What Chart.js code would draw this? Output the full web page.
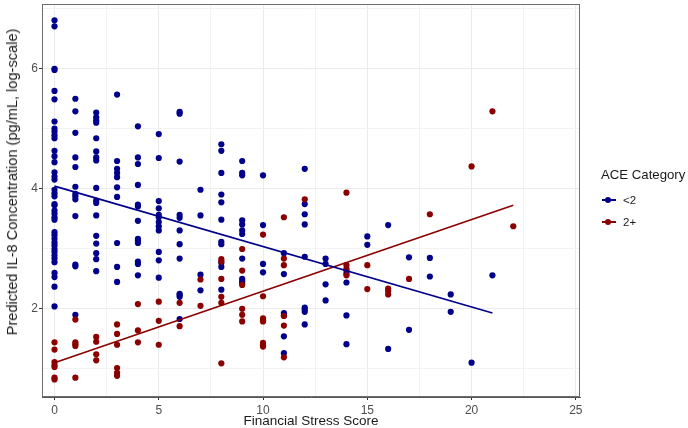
<!DOCTYPE html>
<html>
<head>
<meta charset="utf-8">
<script src="https://cdn.jsdelivr.net/npm/chart.js@4"></script>
<style>
  body { margin: 0; background: #fff; font-family: "Liberation Sans", Arial, sans-serif; }
  #wrap { position: relative; width: 688px; height: 428px; }
  #legend { position: absolute; left: 601px; top: 167px; color: #1a1a1a; white-space: nowrap; }
  #legend .title { font-size: 13.2px; margin-bottom: 7px; }
  #legend .item { position: relative; height: 22px; font-size: 11.5px; line-height: 22px; padding-left: 22px; }
  #legend .key { position: absolute; left: 1px; top: 10px; width: 14px; height: 2px; }
  #legend .dot { position: absolute; left: 4px; top: 8px; width: 6px; height: 6px; border-radius: 50%; }
  #ytitle {
    position: absolute; left: 12px; top: 182px; white-space: nowrap;
    font-size: 14.6px; color: #1a1a1a;
    transform: translate(-50%, -50%) rotate(-90deg);
  }
</style>
</head>
<body>
<div id="wrap">
  <canvas id="chart" width="688" height="428"></canvas>
  <div id="ytitle">Predicted IL-8 Concentration (pg/mL, log-scale)</div>
  <div id="legend"></div>
</div>
<script>
// Predicted IL-8 by financial stress score, grouped by ACE category
const groupLabels = ['<2', '2+'];
const groupColors = ['#00008B', '#8B0000'];

// [score, values] for ACE < 2
const lowAce = [
  [0, [6.81, 6.71, 6.0, 5.98, 5.63, 5.49, 5.12, 5.0, 4.95, 4.89, 4.84, 4.63, 4.54, 4.44, 4.27, 4.2, 4.15, 3.98, 3.92, 3.87,
       3.74, 3.72, 3.63, 3.58, 3.52, 3.48, 3.27, 3.22, 3.16, 3.1, 3.05, 2.99, 2.94, 2.88, 2.83, 2.77, 2.59, 2.52, 2.36, 2.03]],
  [1, [5.5, 5.29, 4.93, 4.52, 4.36, 4.03, 3.91, 3.87, 3.82, 3.54, 2.73, 2.7, 1.89]],
  [2, [5.27, 5.19, 5.14, 5.1, 4.84, 4.62, 4.52, 4.47, 4.01, 3.8, 3.76, 3.55, 3.21, 3.08, 2.92, 2.82, 2.62]],
  [3, [5.57, 4.46, 4.33, 4.26, 4.19, 4.02, 3.86, 3.09, 2.69, 2.44]],
  [4, [5.04, 4.52, 4.41, 4.06, 3.73, 3.7, 3.46, 3.16, 3.13, 3.09, 2.78, 2.74, 2.55]],
  [5, [4.91, 4.51, 3.79, 3.67, 3.56, 3.52, 3.44, 3.37, 3.3, 2.94, 2.8, 2.51]],
  [6, [5.28, 5.25, 4.45, 3.56, 3.51, 3.3, 3.07, 2.83, 2.24, 2.22, 2.19, 1.82]],
  [7, [3.98, 3.55, 2.56, 2.3]],
  [8, [4.74, 4.63, 4.26, 3.9, 3.77, 3.48, 3.11, 3.07, 2.76, 2.69, 2.31]],
  [9, [4.46, 4.26, 4.22, 3.47, 3.4, 3.3, 3.24, 2.83, 2.49, 2.45, 2.42]],
  [10, [4.22, 3.39, 2.74, 2.6]],
  [11, [2.92, 2.57, 1.92, 1.88, 1.53, 1.25]],
  [12, [4.33, 3.74, 3.57, 3.4, 2.86, 2.01, 1.98, 1.94, 1.73]],
  [13, [2.83, 2.74, 2.4, 2.13]],
  [14, [2.63, 2.58, 2.43, 1.88, 1.4]],
  [15, [3.2, 3.06]],
  [16, [3.39, 1.32]],
  [17, [2.85, 1.64]],
  [18, [2.84, 2.53]],
  [19, [2.23, 1.94]],
  [20, [1.09]],
  [21, [2.55]],
];

// [score, values] for ACE 2+
const highAce = [
  [0, [1.43, 1.31, 1.1, 1.05, 1.02, 0.84, 0.81]],
  [1, [1.81, 1.43, 1.4, 1.37, 0.84]],
  [2, [1.52, 1.44, 1.23, 1.13]],
  [3, [1.73, 1.57, 1.39, 1.0, 0.92, 0.87]],
  [4, [2.07, 1.63, 1.43]],
  [5, [2.11, 1.79, 1.39]],
  [6, [2.09, 1.7]],
  [7, [2.48, 2.04]],
  [8, [2.82, 2.78, 2.49, 2.19, 2.09, 1.08]],
  [9, [2.99, 2.63, 2.39, 1.99, 1.89, 1.78]],
  [10, [3.23, 2.2, 1.83, 1.8, 1.78, 1.42, 1.38, 1.36]],
  [11, [3.52, 2.83, 2.72, 1.87, 1.71, 1.18]],
  [12, [3.82]],
  [14, [3.93, 2.72, 2.66, 2.55]],
  [15, [2.72, 2.32]],
  [16, [2.33, 2.29, 2.23]],
  [17, [2.49]],
  [18, [3.57]],
  [20, [4.37]],
  [21, [5.29]],
  [22, [3.37]],
];

// fitted lines (end points)
const lowFitX = [0, 21];
const lowFitY = [4.04, 1.92];
const highFitX = [0, 22];
const highFitY = [1.09, 3.72];

// axis ticks
const xTicks = [0, 2.5, 5, 7.5, 10, 12.5, 15, 17.5, 20, 22.5, 25];
const xLabelTicks = [0, 5, 10, 15, 20, 25];
const yTicks = [1, 2, 3, 4, 5, 6, 7];
const yLabelTicks = [2, 4, 6];

function toPoints(groups) {
  const pts = [];
  groups.forEach(([score, values]) => {
    values.forEach((v) => pts.push({ x: score, y: v }));
  });
  return pts;
}

function toLine(xs, ys) {
  return xs.map((x, i) => ({ x, y: ys[i] }));
}

const FONT = '"Liberation Sans", Arial, sans-serif';

// panel border for top/right sides
const panelBorder = {
  id: 'panelBorder',
  afterDraw(chart) {
    const { ctx, chartArea: a } = chart;
    ctx.save();
    ctx.strokeStyle = '#6e6e6e';
    ctx.lineWidth = 1;
    ctx.strokeRect(a.left + 0.5, a.top + 0.5, a.right - a.left - 1, a.bottom - a.top - 1);
    ctx.restore();
  },
};

new Chart(document.getElementById('chart'), {
  type: 'scatter',
  data: {
    datasets: [
      {
        label: groupLabels[0] + ' fit',
        data: toLine(lowFitX, lowFitY),
        showLine: true,
        borderColor: groupColors[0],
        borderWidth: 1.7,
        pointRadius: 0,
        order: 0,
      },
      {
        label: groupLabels[1] + ' fit',
        data: toLine(highFitX, highFitY),
        showLine: true,
        borderColor: groupColors[1],
        borderWidth: 1.7,
        pointRadius: 0,
        order: 0,
      },
      {
        label: groupLabels[1],
        data: toPoints(highAce),
        backgroundColor: groupColors[1],
        borderWidth: 0,
        pointRadius: 3.1,
        order: 1,
      },
      {
        label: groupLabels[0],
        data: toPoints(lowAce),
        backgroundColor: groupColors[0],
        borderWidth: 0,
        pointRadius: 3.1,
        order: 2,
      },
    ],
  },
  options: {
    responsive: false,
    animation: false,
    layout: { padding: { top: 3, right: 108, left: 0, bottom: 0 } },
    plugins: {
      legend: { display: false },
      tooltip: { enabled: false },
    },
    scales: {
      x: {
        type: 'linear',
        min: -0.6,
        max: 25.2,
        afterBuildTicks: (scale) => { scale.ticks = xTicks.map((v) => ({ value: v })); },
        afterFit: (scale) => {
          scale.height = 31;
          scale.paddingLeft = 0;
          scale.paddingRight = 0;
        },
        ticks: {
          autoSkip: false,
          maxRotation: 0,
          padding: 3,
          color: '#4d4d4d',
          font: { family: FONT, size: 12 },
          callback: (v) => (xLabelTicks.includes(v) ? String(v) : ''),
        },
        grid: {
          color: (ctx) => (ctx.tick && xLabelTicks.includes(ctx.tick.value) ? '#ebebeb' : '#f3f3f3'),
          lineWidth: 1,
          tickLength: 3,
          tickColor: (ctx) => (ctx.tick && xLabelTicks.includes(ctx.tick.value) ? '#333333' : 'rgba(0,0,0,0)'),
        },
        border: { display: true, color: '#555555', width: 1 },
        title: {
          display: true,
          text: 'Financial Stress Score',
          color: '#1a1a1a',
          font: { family: FONT, size: 13.5, lineHeight: 1 },
          padding: { top: 0, bottom: 0 },
        },
      },
      y: {
        type: 'linear',
        min: 0.517,
        max: 7.083,
        afterBuildTicks: (scale) => { scale.ticks = yTicks.map((v) => ({ value: v })); },
        afterFit: (scale) => {
          scale.width = 42;
          scale.paddingTop = 0;
          scale.paddingBottom = 0;
        },
        ticks: {
          padding: 1,
          color: '#4d4d4d',
          font: { family: FONT, size: 12 },
          callback: (v) => (yLabelTicks.includes(v) ? String(v) : ''),
        },
        grid: {
          color: (ctx) => (ctx.tick && yLabelTicks.includes(ctx.tick.value) ? '#ebebeb' : '#f3f3f3'),
          lineWidth: 1,
          tickLength: 3,
          tickColor: (ctx) => (ctx.tick && yLabelTicks.includes(ctx.tick.value) ? '#333333' : 'rgba(0,0,0,0)'),
        },
        border: { display: true, color: '#555555', width: 1 },
        title: { display: false },
      },
    },
  },
  plugins: [panelBorder],
});

// legend
const legendEl = document.getElementById('legend');
legendEl.innerHTML = '<div class="title">ACE Category</div>' + groupLabels.map((label, i) => `
  <div class="item">
    <span class="key" style="background:${groupColors[i]}"></span>
    <span class="dot" style="background:${groupColors[i]}"></span>
    ${label.replace('<', '&lt;')}
  </div>`).join('');
</script>
</body>
</html>
